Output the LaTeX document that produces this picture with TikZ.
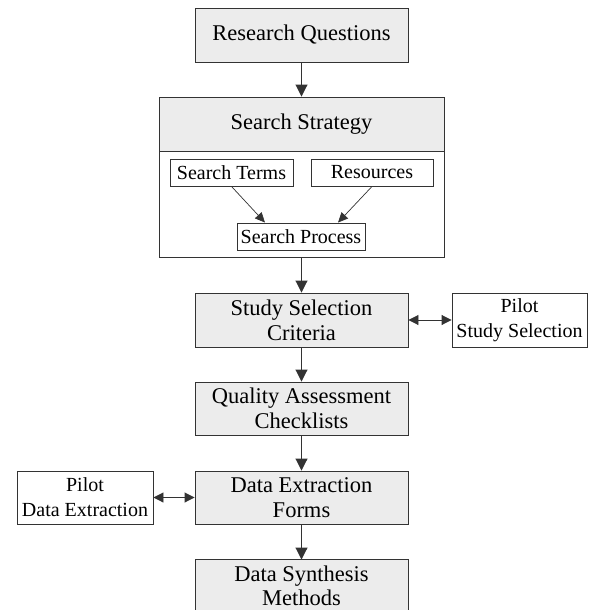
\documentclass[tikz,border=0pt]{standalone}
\usepackage{fontspec}
\setmainfont{Liberation Serif}
\usetikzlibrary{arrows.meta}
\begin{document}
\begin{tikzpicture}[x=1pt,y=-1pt,
  box/.style={draw=black!80,line width=0.9pt,inner sep=0pt,align=center,font=\fontsize{22.5}{25}\selectfont},
  gbox/.style={box,fill=gray!15,minimum width=213pt},
  wbox/.style={draw=black!80,line width=0.9pt,inner sep=0pt,align=center,fill=white,font=\fontsize{20}{25}\selectfont},
  conn/.style={line width=0.9pt,draw=black!80,-{Triangle[length=12pt,width=12pt]}},
  sconn/.style={line width=0.7pt,draw=black!80,-{Triangle[length=10pt,width=9pt]}},
  dconn/.style={line width=0.9pt,draw=black!80,{Triangle[length=10pt,width=10pt]}-{Triangle[length=10pt,width=10pt]}}]
\useasboundingbox (0,0) rectangle (590,610);
\node[gbox,minimum height=54pt] (rq) at (301.5,35) {Research Questions};
\node[box,minimum width=285pt,minimum height=160pt] (ss) at (301.5,177) {};
\node[gbox,minimum width=285pt,minimum height=54pt] (ssh) at (301.5,124) {Search Strategy};
\node[wbox,minimum width=123pt,minimum height=27pt] (st) at (231.5,172.5) {Search Terms};
\node[wbox,minimum width=122pt,minimum height=27pt] (rs) at (372,172.5) {Resources};
\node[wbox,minimum width=128pt,minimum height=27pt] (sp) at (301,236.5) {Search Process};
\node[gbox,minimum height=54pt] (ssc) at (301.5,320) {Study Selection\\Criteria};
\node[wbox,minimum width=135pt,minimum height=54pt] (pss) at (519.5,320) {Pilot\\Study Selection};
\node[gbox,minimum height=53pt] (qac) at (301.5,408.5) {Quality Assessment\\Checklists};
\node[gbox,minimum height=53pt] (def) at (301.5,497.5) {Data Extraction\\Forms};
\node[wbox,minimum width=136pt,minimum height=53pt] (pde) at (85,497.5) {Pilot\\Data Extraction};
\node[gbox,minimum height=52pt,font=\fontsize{22.5}{24}\selectfont] (dsm) at (301.5,585.5) {Data Synthesis\\Methods};
\draw[conn] (rq.south) -- (ss.north);
\draw[sconn] (st.south) -- ([xshift=-36pt]sp.north);
\draw[sconn] (rs.south) -- ([xshift=37pt]sp.north);
\draw[conn] (ss.south) -- (ssc.north);
\draw[conn] (ssc.south) -- (qac.north);
\draw[conn] (qac.south) -- (def.north);
\draw[conn] (def.south) -- ([yshift=-0.5pt]dsm.north);
\draw[dconn] (ssc.east) -- (pss.west);
\draw[dconn] (pde.east) -- (def.west);
\end{tikzpicture}
\end{document}
